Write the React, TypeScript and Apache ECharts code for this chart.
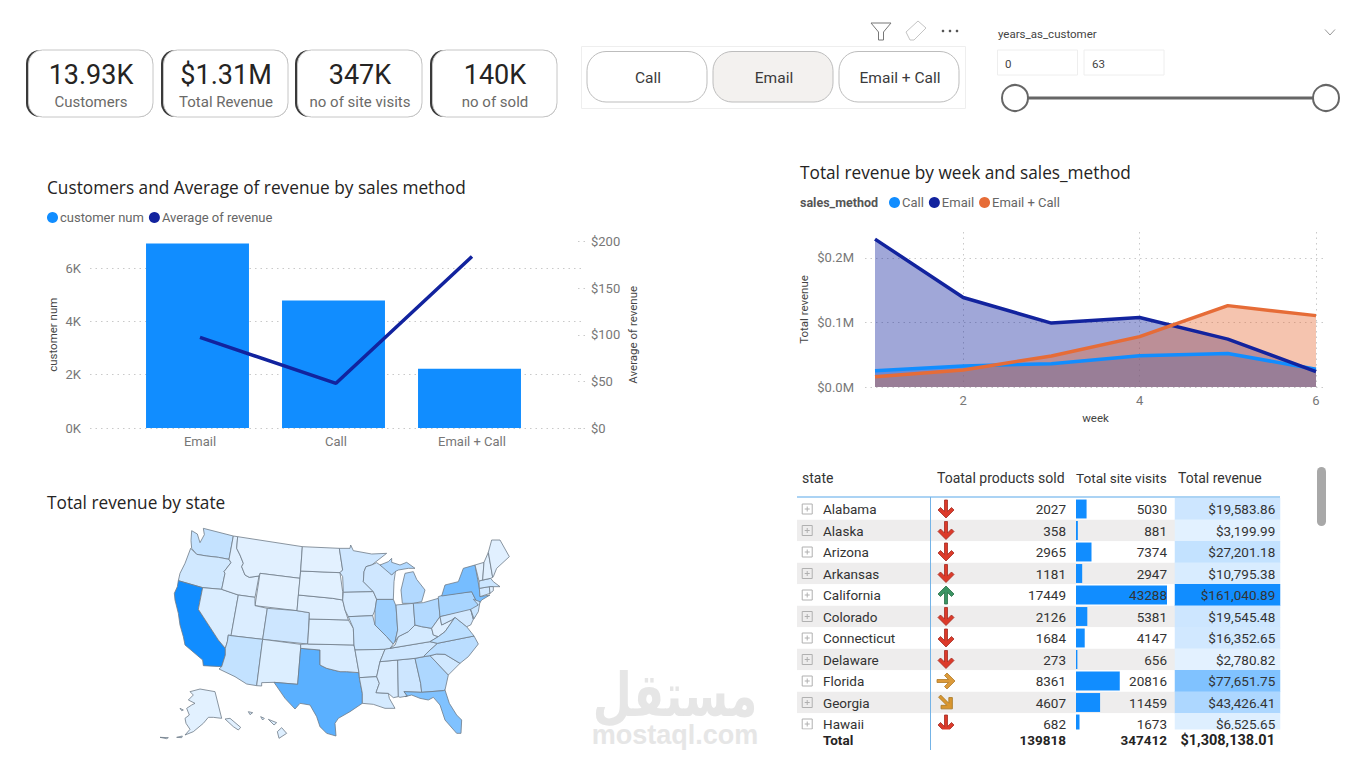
import React, { useEffect, useRef } from "react";
import * as echarts from "echarts";

const FONT = "Roboto";
const TITLE_FONT = "Open Sans";

// ---------- data
const kpiValues = ["13.93K", "$1.31M", "347K", "140K"];
const kpiLabels = ["Customers", "Total Revenue", "no of site visits", "no of sold"];
const slicerOptions = ["Call", "Email", "Email + Call"];

const methods = ["Email", "Call", "Email + Call"];
const customerNum = [6922, 4781, 2223];
const avgRevenue = [97.1, 47.9, 184];

const weeks = ["1", "2", "3", "4", "5", "6"];
const weekCall = [0.0253, 0.0326, 0.0361, 0.0485, 0.052, 0.0274];
const weekEmail = [0.229, 0.1385, 0.099, 0.1075, 0.0742, 0.0237];
const weekBoth = [0.016, 0.0264, 0.048, 0.078, 0.126, 0.1105];

const tableStates = ["Alabama", "Alaska", "Arizona", "Arkansas", "California", "Colorado", "Connecticut", "Delaware", "Florida", "Georgia", "Hawaii"];
const tableSold = [2027, 358, 2965, 1181, 17449, 2126, 1684, 273, 8361, 4607, 682];
const tableVisits = [5030, 881, 7374, 2947, 43288, 5381, 4147, 656, 20816, 11459, 1673];
const tableRevenue = [19583.86, 3199.99, 27201.18, 10795.38, 161040.89, 19545.48, 16352.65, 2780.82, 77651.75, 43426.41, 6525.65];
const tableArrows = ["down", "down", "down", "down", "up", "down", "down", "down", "right", "diag", "down"];
const tableTotals = ["139818", "347412", "$1,308,138.01"];

const mapStates = ["Washington", "Oregon", "California", "Nevada", "Idaho", "Montana", "Wyoming", "Utah", "Colorado", "Arizona", "New Mexico", "Texas", "Oklahoma", "Kansas", "Nebraska", "South Dakota", "North Dakota", "Minnesota", "Iowa", "Missouri", "Arkansas", "Louisiana", "Mississippi", "Alabama", "Georgia", "Florida", "South Carolina", "North Carolina", "Tennessee", "Kentucky", "Illinois", "Wisconsin", "Michigan", "Indiana", "Ohio", "Pennsylvania", "New York", "West Virginia", "Virginia", "Maryland", "Delaware", "New Jersey", "Connecticut", "Massachusetts", "Vermont", "New Hampshire", "Maine", "Rhode Island", "Alaska", "Hawaii"];
const mapRevenue = [26000, 17000, 161040.89, 9500, 6000, 4000, 3000, 9000, 19545, 27201, 8000, 106000, 10000, 8000, 6000, 3500, 3000, 18000, 12000, 20000, 10795, 14000, 10000, 19584, 43426, 77652, 17000, 34000, 18000, 14000, 55000, 18000, 40000, 21000, 40000, 47000, 85000, 5500, 32000, 15000, 2781, 22000, 16353, 20000, 3000, 4000, 4000, 3000, 3200, 6526];

// Traced state outlines, in the units of a 1110 x 690 drawing (y downwards).
const stateOutlines: Record<string, number[][]> = {
  Washington: [[125, 32, 142, 42, 150, 68, 163, 44, 160, 25, 250, 48, 237, 118, 205, 112, 170, 108, 140, 103, 125, 85, 123, 62]],
  Oregon: [[122, 85, 140, 103, 170, 108, 205, 112, 237, 118, 243, 128, 222, 155, 225, 160, 215, 208, 158, 203, 85, 182, 90, 160, 105, 130]],
  California: [[85, 182, 158, 203, 145, 268, 205, 360, 226, 385, 226, 405, 215, 440, 160, 437, 158, 420, 105, 375, 100, 350, 90, 315, 85, 280, 75, 240, 73, 220, 82, 200]],
  Nevada: [[158, 203, 215, 208, 265, 225, 243, 347, 235, 345, 232, 365, 226, 385, 205, 360, 145, 268]],
  Idaho: [[250, 48, 263, 50, 260, 85, 270, 105, 280, 130, 275, 140, 285, 165, 298, 172, 327, 168, 315, 232, 265, 225, 215, 208, 225, 160, 222, 155, 243, 128, 237, 118]],
  Montana: [[263, 50, 457, 80, 450, 175, 330, 160, 327, 168, 298, 172, 285, 165, 275, 140, 280, 130, 270, 105, 260, 85]],
  Wyoming: [[330, 160, 450, 175, 441, 272, 315, 257]],
  Utah: [[265, 225, 315, 232, 315, 257, 352, 265, 338, 358, 243, 347]],
  Colorado: [[352, 265, 441, 272, 478, 278, 473, 372, 338, 358]],
  Arizona: [[243, 347, 338, 358, 320, 497, 290, 492, 255, 470, 207, 447, 215, 440, 226, 405, 226, 385, 232, 365, 235, 345]],
  "New Mexico": [[338, 358, 452, 373, 452, 385, 443, 493, 372, 487, 335, 488, 335, 498, 320, 497]],
  Texas: [[452, 385, 510, 390, 510, 435, 530, 445, 570, 455, 590, 455, 627, 458, 628, 473, 637, 520, 637, 550, 600, 575, 565, 595, 555, 610, 558, 648, 530, 640, 510, 620, 500, 590, 480, 555, 450, 550, 435, 567, 405, 535, 372, 487, 443, 493]],
  Oklahoma: [[452, 373, 473, 372, 612, 375, 615, 390, 627, 458, 590, 455, 570, 455, 530, 445, 510, 435, 510, 390, 452, 385]],
  Kansas: [[478, 297, 595, 300, 610, 325, 612, 375, 473, 372]],
  Nebraska: [[445, 225, 548, 235, 578, 240, 585, 270, 595, 300, 478, 297, 478, 278, 441, 272]],
  "South Dakota": [[452, 153, 570, 158, 578, 215, 578, 240, 548, 235, 445, 225]],
  "North Dakota": [[457, 80, 568, 85, 578, 150, 570, 158, 452, 153]],
  Minnesota: [[568, 85, 600, 85, 602, 75, 610, 92, 665, 102, 710, 100, 665, 135, 648, 140, 642, 155, 640, 185, 670, 215, 580, 217, 578, 170, 570, 158, 578, 150]],
  Iowa: [[580, 217, 670, 215, 680, 238, 675, 270, 668, 287, 595, 290, 585, 270, 578, 240]],
  Missouri: [[595, 290, 668, 287, 675, 315, 710, 350, 730, 372, 720, 385, 705, 388, 615, 390, 612, 375, 610, 325]],
  Arkansas: [[615, 390, 705, 388, 690, 425, 680, 470, 628, 473, 627, 458]],
  Louisiana: [[628, 473, 680, 470, 688, 490, 678, 518, 715, 520, 718, 535, 735, 565, 705, 565, 670, 553, 637, 550, 637, 520]],
  Mississippi: [[690, 425, 743, 420, 745, 530, 730, 533, 715, 520, 678, 518, 688, 490, 680, 470]],
  Alabama: [[743, 420, 795, 415, 812, 490, 815, 517, 762, 515, 772, 528, 750, 532, 745, 530]],
  Georgia: [[795, 415, 840, 407, 895, 465, 885, 510, 880, 512, 815, 517, 812, 490]],
  Florida: [[762, 515, 815, 517, 880, 512, 885, 510, 898, 550, 920, 585, 935, 600, 933, 640, 920, 640, 885, 600, 870, 555, 850, 532, 835, 540, 810, 535, 785, 525, 765, 530, 772, 528]],
  "South Carolina": [[840, 407, 860, 402, 885, 403, 930, 430, 895, 465]],
  "North Carolina": [[820, 410, 840, 390, 862, 370, 972, 348, 985, 372, 955, 410, 930, 430, 885, 403, 860, 402, 840, 407]],
  Tennessee: [[720, 385, 840, 365, 862, 370, 840, 390, 820, 410, 795, 415, 743, 420, 690, 425, 705, 388]],
  Kentucky: [[735, 375, 745, 350, 775, 335, 795, 315, 815, 320, 845, 325, 850, 345, 865, 350, 840, 365, 720, 385]],
  Illinois: [[680, 238, 730, 238, 738, 258, 743, 330, 735, 365, 730, 372, 710, 350, 675, 315, 675, 270]],
  Wisconsin: [[640, 185, 642, 155, 648, 140, 665, 135, 680, 128, 690, 135, 715, 150, 725, 165, 737, 150, 732, 185, 730, 238, 680, 238, 670, 215]],
  Michigan: [[690, 135, 715, 125, 725, 115, 725, 127, 750, 135, 770, 127, 795, 145, 775, 145, 745, 150, 735, 155, 725, 165, 705, 148], [757, 250, 753, 210, 765, 160, 790, 155, 800, 178, 825, 210, 815, 245, 790, 250]],
  Indiana: [[738, 255, 790, 250, 795, 315, 775, 335, 745, 350, 735, 365, 743, 330]],
  Ohio: [[790, 250, 820, 248, 865, 235, 870, 290, 845, 325, 815, 320, 795, 315]],
  Pennsylvania: [[865, 235, 865, 230, 880, 225, 965, 215, 985, 255, 970, 270, 870, 290]],
  "New York": [[875, 228, 885, 195, 925, 185, 940, 145, 975, 135, 988, 205, 990, 230, 1020, 225, 995, 240, 985, 255, 965, 215]],
  "West Virginia": [[845, 325, 870, 290, 875, 315, 905, 300, 915, 292, 885, 335, 865, 350, 850, 345]],
  Virginia: [[840, 365, 865, 350, 885, 335, 915, 292, 950, 320, 972, 348, 862, 370]],
  Maryland: [[870, 290, 962, 268, 970, 298, 962, 315, 950, 320, 915, 292, 905, 300, 875, 315]],
  Delaware: [[962, 268, 975, 290, 970, 298]],
  "New Jersey": [[970, 238, 990, 245, 985, 275, 972, 296, 962, 268, 985, 255]],
  Connecticut: [[988, 205, 1018, 200, 1020, 220, 990, 230]],
  Massachusetts: [[987, 183, 1022, 175, 1030, 185, 1050, 200, 1030, 200, 1018, 200, 988, 205]],
  Vermont: [[975, 135, 1002, 127, 998, 180, 987, 183]],
  "New Hampshire": [[1002, 127, 1015, 97, 1028, 172, 1022, 175, 998, 180]],
  Maine: [[1015, 97, 1025, 60, 1050, 60, 1078, 110, 1040, 145, 1030, 170, 1028, 172]],
  "Rhode Island": [[1018, 200, 1030, 200, 1030, 212, 1020, 220]],
  Alaska: [[120, 515, 150, 507, 195, 515, 215, 595, 190, 592, 175, 592, 160, 610, 130, 635, 105, 645, 120, 628, 108, 610, 105, 595, 118, 585, 110, 565, 125, 555, 135, 550, 115, 540, 130, 525], [225, 597, 240, 595, 272, 622, 265, 630, 250, 620], [30, 652, 55, 653, 50, 656], [80, 652, 97, 648, 95, 653], [90, 565, 100, 570, 95, 572]],
  Hawaii: [[395, 623, 410, 640, 387, 655, 382, 635], [355, 598, 380, 608, 372, 615], [332, 590, 343, 595, 338, 600], [295, 575, 308, 578, 300, 584]],
};

const mapGeo = {
  type: "FeatureCollection",
  features: Object.entries(stateOutlines).map(([name, rings]) => ({
    type: "Feature",
    properties: { name },
    geometry: {
      type: "MultiPolygon",
      coordinates: rings.map((flat) => {
        const ring: number[][] = [];
        for (let i = 0; i < flat.length; i += 2) ring.push([flat[i], -flat[i + 1]]);
        ring.push(ring[0]);
        return [ring];
      }),
    },
  })),
};

const ARROW = "path://M8 0 L16 8 L13.5 10.5 L9.5 6.5 V18 H6.5 V6.5 L2.5 10.5 L0 8 Z";
const PLUS = "path://M0 0H10V10H0Z M2.5 5H7.5 M5 2.5V7.5";
const arrowStyle: Record<string, { rot: number; fill: string; edge: string }> = {
  down: { rot: 180, fill: "#dc3a2a", edge: "#a32c22" },
  up: { rot: 0, fill: "#3b9463", edge: "#2a7048" },
  right: { rot: -90, fill: "#dc9a3a", edge: "#b07a28" },
  diag: { rot: -135, fill: "#d9962f", edge: "#a97a28" },
};

function txt(text: string, x: number, y: number, size: number, fill: string, align = "left", extra: any = {}, family = FONT) {
  return {
    type: "text",
    x,
    y,
    z: extra.z ?? 10,
    scaleX: extra.scaleX ?? 1,
    scaleY: extra.scaleY ?? 1,
    style: { text, fontSize: size, fontFamily: family, fontWeight: extra.weight ?? "normal", fill, align, textAlign: align, verticalAlign: "middle", textVerticalAlign: "middle" },
  };
}
function box(x: number, y: number, width: number, height: number, r: number, fill: string, stroke: string, lineWidth = 1, z = 5) {
  return { type: "rect", z, shape: { x, y, width, height, r }, style: { fill, stroke, lineWidth } };
}

function buildGraphic() {
  const els: any[] = [];
  // KPI cards
  kpiValues.forEach((v, i) => {
    const x = [26, 161, 295, 430][i];
    els.push(box(x, 50, 127, 67, 14, "#3a3a3a", "#3a3a3a", 0, 4));
    els.push(box(x + 2.5, 50, 124.5, 67, 14, "#ffffff", "#c6c6c6", 1, 5));
    els.push(txt(v, x + 65, 75, 27, "#252423", "center"));
    els.push(txt(kpiLabels[i], x + 65, 102, 15, "#6b6a68", "center"));
  });
  // Slicer buttons
  els.push(box(581.5, 46.5, 384, 62, 0, "#ffffff", "#eeeeee"));
  slicerOptions.forEach((t, i) => {
    const x = 587 + i * 126;
    els.push(box(x, 51.5, 120, 50.5, 19, i === 1 ? "#f3f1ef" : "#ffffff", "#bdbdbd", 1, 6));
    els.push(txt(t, x + 61, 78, 15.5, "#3a3a3a", "center"));
  });
  // Visual header icons
  els.push({ type: "polygon", z: 8, shape: { points: [[871, 23], [891, 23], [883.5, 32], [883.5, 40], [878.5, 40], [878.5, 32]] }, style: { fill: "none", stroke: "#777", lineWidth: 1 } });
  els.push({ type: "polygon", z: 8, shape: { points: [[906, 32], [918, 21], [926, 28], [914, 40], [910, 40]] }, style: { fill: "none", stroke: "#c4c4c4", lineWidth: 1 } });
  [943, 950, 957].forEach((cx) => els.push({ type: "circle", z: 8, shape: { cx, cy: 31, r: 1.3 }, style: { fill: "#555" } }));
  // Range slicer
  els.push(txt("years_as_customer", 998, 34, 11.5, "#444", "left"));
  els.push({ type: "polyline", z: 8, shape: { points: [[1325, 29.5], [1330, 35], [1335, 29.5]] }, style: { fill: "none", stroke: "#999", lineWidth: 1 } });
  els.push(box(997.5, 50, 80, 25, 0, "#ffffff", "#eeeeee"));
  els.push(box(1084, 50, 80, 25, 0, "#ffffff", "#eeeeee"));
  els.push(txt("0", 1005, 63.5, 11.5, "#444", "left"));
  els.push(txt("63", 1092, 63.5, 11.5, "#444", "left"));
  els.push({ type: "line", z: 6, shape: { x1: 1020, y1: 98, x2: 1320, y2: 98 }, style: { stroke: "#666", lineWidth: 3 } });
  [1015, 1326].forEach((cx) => els.push({ type: "circle", z: 7, shape: { cx, cy: 98, r: 13 }, style: { fill: "#fff", stroke: "#666", lineWidth: 2 } }));
  // Titles
  els.push(txt("Customers and Average of revenue by sales method", 47, 187, 17.25, "#252423", "left", {}, TITLE_FONT));
  els.push(txt("Total revenue by state", 47, 502, 17.25, "#252423", "left", {}, TITLE_FONT));
  els.push(txt("Total revenue by week and sales_method", 800, 172, 17.25, "#252423", "left", {}, TITLE_FONT));
  els.push(txt("sales_method", 800, 202, 12.5, "#555", "left", { weight: "bold" }));
  // Table header, rules and totals
  els.push(txt("state", 802, 478, 14, "#333", "left"));
  els.push(txt("Toatal products sold", 937, 478, 14, "#333", "left"));
  els.push(txt("Total site visits", 1076, 478, 13.6, "#333", "left"));
  els.push(txt("Total revenue", 1178, 478, 14, "#333", "left"));
  els.push({ type: "rect", z: 50, shape: { x: 797, y: 729.5, width: 490, height: 24 }, style: { fill: "#ffffff" } });
  els.push({ type: "line", z: 51, shape: { x1: 797, y1: 497, x2: 1280, y2: 497 }, style: { stroke: "#8fc4f0", lineWidth: 1.5 } });
  els.push({ type: "line", z: 51, shape: { x1: 930.5, y1: 497, x2: 930.5, y2: 750 }, style: { stroke: "#74b3e6", lineWidth: 1 } });
  els.push(txt("Total", 823, 740, 13.5, "#252423", "left", { weight: "bold", z: 52 }));
  els.push(txt(tableTotals[0], 1066, 740, 13.5, "#252423", "right", { weight: "bold", z: 52 }));
  els.push(txt(tableTotals[1], 1167, 740, 13.5, "#252423", "right", { weight: "bold", z: 52 }));
  els.push(txt(tableTotals[2], 1275, 740, 14.5, "#252423", "right", { weight: "bold", z: 52 }));
  // Scrollbar
  els.push(box(1317, 467, 9, 59, 4.5, "#a8a8a8", "#a8a8a8", 0));
  // Watermark
  els.push(txt("مستقل", 675, 696, 50, "#e6e6e6", "center", { weight: "bold", z: 1, scaleX: 0.9, scaleY: 1.2 }, "DejaVu Sans"));
  els.push(txt("mostaql.com", 675, 735, 27, "#e6e6e6", "center", { weight: "bold", z: 1 }, "Liberation Sans"));
  return els;
}

function buildOption() {
  const axisText = { color: "#777", fontFamily: FONT, fontSize: 13 };
  const nameText = { color: "#444", fontFamily: FONT, fontSize: 11.5 };
  const dotted = { type: [1.5, 4], color: "#c9c9c9", width: 1 };
  const grids: any[] = [];
  const xAxis: any[] = [];
  const yAxis: any[] = [];
  const series: any[] = [];
  const hiddenV = (gridIndex: number, min = 0, max = 1) => ({ type: "value", gridIndex, show: false, min, max, splitLine: { show: false } });

  // --- combo backdrop: gridlines and both value axes
  grids.push({ left: 90, width: 495, top: 241.5, height: 186.5 });
  xAxis.push(hiddenV(0));
  yAxis.push({
    type: "value", gridIndex: 0, position: "left", min: 0, max: 7000, interval: 2000,
    axisLine: { show: false }, axisTick: { show: false },
    axisLabel: { ...axisText, margin: 9, showMaxLabel: false, formatter: (v: number) => `${v / 1000}K` },
    splitLine: { show: true, showMaxLine: false, lineStyle: dotted },
    name: "customer num", nameLocation: "middle", nameRotate: 90, nameGap: 31, nameTextStyle: nameText,
  });
  yAxis.push({
    type: "value", gridIndex: 0, position: "right", min: 0, max: 200, interval: 50,
    axisLine: { show: false }, axisTick: { show: true, inside: true, length: 8, lineStyle: dotted },
    axisLabel: { ...axisText, margin: 6, formatter: (v: number) => `$${v}` },
    splitLine: { show: false },
    name: "Average of revenue", nameLocation: "middle", nameRotate: 90, nameGap: 42, nameTextStyle: nameText,
  });
  // --- combo line and category labels
  grids.push({ left: 132, width: 408, top: 241.5, height: 186.5 });
  xAxis.push({ type: "category", gridIndex: 1, data: methods, axisLine: { show: false }, axisTick: { show: false }, axisLabel: { ...axisText, margin: 7 } });
  yAxis.push(hiddenV(1, 0, 7000));
  yAxis.push(hiddenV(1, 0, 200));
  series.push({ type: "line", name: "Average of revenue", xAxisIndex: 1, yAxisIndex: 3, data: avgRevenue, z: 3, showSymbol: false, symbol: "none", lineStyle: { color: "#12239e", width: 3.5 }, itemStyle: { color: "#12239e" } });

  // --- weekly backdrop
  grids.push({ left: 865, width: 462, top: 232, height: 155 });
  xAxis.push(hiddenV(2));
  yAxis.push({
    type: "value", gridIndex: 2, min: 0, max: 0.24, interval: 0.1,
    axisLine: { show: false }, axisTick: { show: false },
    axisLabel: { ...axisText, margin: 11, showMaxLabel: false, formatter: (v: number) => `$${v.toFixed(1)}M` },
    splitLine: { show: true, showMaxLine: false, lineStyle: dotted },
    name: "Total revenue", nameLocation: "middle", nameRotate: 90, nameGap: 55, nameTextStyle: nameText,
  });
  // --- weekly marks
  grids.push({ left: 875, width: 441, top: 232, height: 155 });
  xAxis.push({
    type: "category", gridIndex: 3, data: weeks, boundaryGap: false,
    axisLine: { show: false }, axisTick: { show: false },
    axisLabel: { ...axisText, margin: 7, interval: (i: number) => i % 2 === 1 },
    splitLine: { show: true, interval: (i: number) => i % 2 === 1, lineStyle: dotted },
    name: "week", nameLocation: "middle", nameGap: 25, nameTextStyle: nameText,
  });
  yAxis.push(hiddenV(3, 0, 0.24));
  const area = (name: string, data: number[], color: string) => ({
    type: "line", name, xAxisIndex: 3, yAxisIndex: 5, data, showSymbol: false, symbol: "none",
    lineStyle: { color, width: 3.5 }, itemStyle: { color }, areaStyle: { color, opacity: 0.4 },
  });
  series.push(area("Call", weekCall, "#118dff"), area("Email", weekEmail, "#12239e"), area("Email + Call", weekBoth, "#e66c37"));

  // --- combo bars (they sit slightly left of their category labels)
  {
    const i = grids.length;
    grids.push({ left: 129.5, width: 408, top: 241.5, height: 186.5 });
    xAxis.push({ type: "category", gridIndex: i, show: false, data: methods });
    yAxis.push(hiddenV(i, 0, 7000));
    series.push({ type: "bar", name: "customer num", xAxisIndex: xAxis.length - 1, yAxisIndex: yAxis.length - 1, z: 1, data: customerNum, barCategoryGap: "24.3%", itemStyle: { color: "#118dff" } });
  }

  // --- table: a row-labelled band with stripes and state names
  const tableTop = 498.25;
  const tableHeight = 236.5;
  const stateAxis = (gridIndex: number, extra: any = {}) => ({
    type: "category", gridIndex, inverse: true, data: tableStates,
    axisLine: { show: false }, axisTick: { show: false }, axisLabel: { show: false }, splitLine: { show: false }, ...extra,
  });
  const addTableGrid = (left: number, width: number, x: any, y: any = {}) => {
    const i = grids.length;
    grids.push({ left, width, top: tableTop, height: tableHeight });
    xAxis.push({ ...x, gridIndex: i });
    yAxis.push(stateAxis(i, y));
    return { x: xAxis.length - 1, y: yAxis.length - 1 };
  };
  const unit = { type: "value", show: false, min: 0, max: 1, splitLine: { show: false } };

  // stripes + names
  const base = addTableGrid(797, 378, unit, {
    splitArea: { show: true, interval: 0, areaStyle: { color: ["#ffffff", "#eeeded"] } },
    axisLabel: { show: true, inside: true, margin: 26, color: "#333", fontFamily: FONT, fontSize: 13.5, interval: 0 },
  });
  series.push({ type: "scatter", xAxisIndex: base.x, yAxisIndex: base.y, symbol: PLUS, symbolSize: 10, silent: true, itemStyle: { color: "none", borderColor: "#b0b0b0", borderWidth: 1, opacity: 1 }, data: tableStates.map((s) => [0.027, s]) });

  // arrows
  const arrows = addTableGrid(936, 20, unit);
  series.push({
    type: "scatter", xAxisIndex: arrows.x, yAxisIndex: arrows.y, symbol: ARROW, symbolSize: [16, 18], silent: true,
    data: tableStates.map((s, i) => {
      const a = arrowStyle[tableArrows[i]];
      return { value: [0.5, s], symbolRotate: a.rot, itemStyle: { color: a.fill, borderColor: a.edge, borderWidth: 0.8, opacity: 1 } };
    }),
  });

  // right aligned text column
  const textColumn = (axes: { x: number; y: number }, values: number[]) => ({
    type: "custom", xAxisIndex: axes.x, yAxisIndex: axes.y, silent: true, clip: false, z: 4,
    data: values.map((v, i) => [1, i, v]),
    encode: { x: 0, y: 1 },
    renderItem: (_: any, api: any) => {
      const p = api.coord([1, api.value(1)]);
      return { type: "text", x: p[0], y: p[1], style: { text: String(api.value(2)), fontFamily: FONT, fontSize: 13.5, fill: "#333", align: "right", textAlign: "right", verticalAlign: "middle", textVerticalAlign: "middle" } };
    },
  });
  const sold = addTableGrid(931, 135, unit);
  series.push(textColumn(sold, tableSold));

  // visits: data bars
  const visits = addTableGrid(1076, 91, { type: "value", show: false, min: 0, max: Math.max(...tableVisits), splitLine: { show: false } });
  series.push({ type: "bar", xAxisIndex: visits.x, yAxisIndex: visits.y, data: tableVisits, barCategoryGap: "12%", silent: true, itemStyle: { color: "#118dff" } });
  const visitsText = addTableGrid(1076, 91, unit);
  series.push(textColumn(visitsText, tableVisits));

  // revenue cells
  const revenue = addTableGrid(1175, 105, { type: "category", show: false, data: ["Total revenue"], splitLine: { show: false } });
  series.push({
    type: "heatmap", xAxisIndex: revenue.x, yAxisIndex: revenue.y, silent: true,
    data: tableRevenue.map((v, i) => [0, i, v]),
    label: {
      show: true, position: "insideRight", distance: 5, color: "#333", fontFamily: FONT, fontSize: 13.5,
      formatter: (p: any) => "$" + tableRevenue[p.dataIndex].toLocaleString("en-US", { minimumFractionDigits: 2, maximumFractionDigits: 2 }),
    },
    itemStyle: { borderWidth: 0 },
  });
  const heatIndex = series.length - 1;

  // map
  series.push({
    type: "map", map: "USA-traced", silent: true, roam: false, aspectScale: 1, showLegendSymbol: false,
    boundingCoords: [[0, 0], [1110, -690]],
    left: 150, top: 520, width: 370, height: 230,
    label: { show: false },
    itemStyle: { borderColor: "#6f7b88", borderWidth: 0.8 },
    data: mapStates.map((name, i) => ({ name, value: mapRevenue[i] })),
  });
  const mapIndex = series.length - 1;

  const shade = { color: ["#e3f1ff", "#118dff"] };
  return {
    animation: false,
    backgroundColor: "#ffffff",
    textStyle: { fontFamily: FONT },
    grid: grids,
    xAxis,
    yAxis,
    series,
    visualMap: [
      { type: "continuous", show: false, seriesIndex: heatIndex, dimension: 2, min: 2780, max: 161041, inRange: shade },
      { type: "continuous", show: false, seriesIndex: mapIndex, min: 2780, max: 161041, inRange: shade },
    ],
    legend: [
      { data: ["customer num", "Average of revenue"], left: 47, top: 211, icon: "circle", itemWidth: 11, itemHeight: 11, itemGap: 5, selectedMode: false, padding: 0, textStyle: { color: "#666", fontFamily: FONT, fontSize: 13, padding: [0, 0, 0, -3] } },
      { data: ["Call", "Email", "Email + Call"], left: 889, top: 196, icon: "circle", itemWidth: 11, itemHeight: 11, itemGap: 5, selectedMode: false, padding: 0, textStyle: { color: "#666", fontFamily: FONT, fontSize: 13, padding: [0, 0, 0, -3] } },
    ],
    graphic: { elements: buildGraphic() },
  };
}

export default function App() {
  const ref = useRef<HTMLDivElement>(null);
  useEffect(() => {
    if (!ref.current) return;
    document.body.style.margin = "0";
    echarts.registerMap("USA-traced", mapGeo as any);
    const chart = echarts.init(ref.current, undefined, { renderer: "svg" });
    chart.setOption(buildOption() as any);
    return () => chart.dispose();
  }, []);
  return <div ref={ref} style={{ position: "fixed", left: 0, top: 0, width: 1351, height: 764, background: "#fff" }} />;
}
